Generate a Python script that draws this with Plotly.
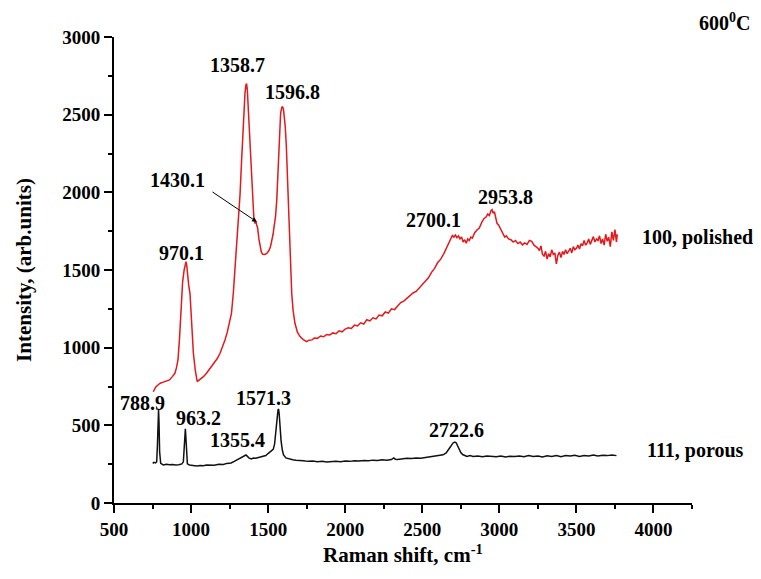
import plotly.graph_objects as go

# Red spectrum: 100, polished  (Raman shift, intensity)
red_points = [
    (755, 716), (770, 745), (785, 760), (800, 771), (820, 778), (840, 785), (860, 792), (880, 815),
    (895, 835), (905, 870), (915, 921), (925, 1060), (935, 1280), (945, 1420), (955, 1500), (962, 1540),
    (967, 1553), (972, 1530), (978, 1460), (985, 1400), (993, 1350), (1003, 1180), (1015, 964), (1028, 850),
    (1040, 781), (1050, 790), (1065, 800), (1080, 813), (1100, 835), (1123, 867), (1150, 900), (1170, 930),
    (1188, 964), (1205, 1005), (1220, 1050), (1235, 1100), (1250, 1160), (1262, 1220), (1274, 1350), (1285, 1500),
    (1296, 1640), (1307, 1779), (1318, 1990), (1328, 2208), (1336, 2380), (1343, 2530), (1350, 2640), (1356, 2691),
    (1360, 2700), (1365, 2660), (1371, 2530), (1378, 2380), (1386, 2230), (1393, 2101), (1400, 1960), (1408, 1822),
    (1415, 1800), (1421, 1810), (1426, 1790), (1432, 1770), (1440, 1700), (1447, 1650), (1456, 1615), (1465, 1601),
    (1478, 1600), (1491, 1607), (1505, 1625), (1515, 1650), (1523, 1682), (1532, 1730), (1540, 1790), (1548, 1843),
    (1556, 1950), (1566, 2208), (1574, 2380), (1581, 2509), (1588, 2545), (1594, 2552), (1600, 2530), (1605, 2490),
    (1611, 2423), (1618, 2300), (1625, 2100), (1631, 1886), (1638, 1700), (1645, 1520), (1653, 1350), (1662, 1240),
    (1674, 1157), (1690, 1100), (1707, 1071), (1728, 1052), (1750, 1039),
    (1765, 1048), (1785, 1050), (1800, 1062), (1820, 1060), (1840, 1075), (1860, 1070), (1880, 1085), (1900, 1082),
    (1920, 1095), (1940, 1090), (1960, 1108), (1980, 1102), (2000, 1120), (2020, 1128), (2040, 1124), (2060, 1145),
    (2080, 1140), (2100, 1160), (2120, 1152), (2140, 1180), (2160, 1172), (2180, 1192), (2200, 1185), (2220, 1210),
    (2240, 1205), (2260, 1230), (2280, 1222), (2300, 1250), (2320, 1245), (2340, 1270), (2360, 1290), (2380, 1300),
    (2400, 1318), (2420, 1330), (2440, 1352), (2460, 1362), (2480, 1385), (2500, 1405), (2520, 1428), (2540, 1450),
    (2560, 1485), (2580, 1510), (2600, 1548), (2620, 1570), (2640, 1605), (2660, 1650), (2680, 1685), (2695, 1722),
    (2705, 1712), (2715, 1725), (2725, 1708), (2735, 1720), (2745, 1700), (2755, 1712), (2765, 1680), (2775, 1695),
    (2785, 1672), (2795, 1700), (2805, 1690), (2815, 1712), (2825, 1705), (2840, 1740), (2855, 1758), (2870, 1770),
    (2885, 1805), (2900, 1830), (2915, 1842), (2925, 1860), (2935, 1850), (2945, 1880), (2953, 1888), (2960, 1865),
    (2968, 1875), (2976, 1835), (2985, 1800), (2995, 1790), (3005, 1770), (3015, 1745), (3025, 1735), (3035, 1712),
    (3045, 1720), (3060, 1700), (3075, 1695), (3090, 1680), (3105, 1690), (3120, 1670), (3135, 1680), (3150, 1662),
    (3165, 1675), (3180, 1665), (3195, 1690), (3210, 1685), (3225, 1660), (3240, 1650),
    (3250, 1640), (3260, 1625), (3270, 1655), (3280, 1600), (3290, 1590), (3300, 1620), (3310, 1570), (3320, 1605),
    (3330, 1585), (3340, 1630), (3350, 1600), (3360, 1610), (3370, 1540), (3380, 1595), (3390, 1615), (3400, 1580),
    (3410, 1620), (3420, 1600), (3430, 1630), (3440, 1605), (3450, 1625), (3460, 1640), (3470, 1610), (3480, 1650),
    (3490, 1630), (3500, 1640), (3510, 1660), (3520, 1635), (3530, 1670), (3540, 1655), (3550, 1690), (3560, 1660),
    (3570, 1675), (3580, 1700), (3590, 1665), (3600, 1690), (3610, 1715), (3620, 1680), (3630, 1700), (3640, 1690),
    (3650, 1720), (3660, 1670), (3670, 1700), (3680, 1660), (3690, 1730), (3700, 1685), (3710, 1710), (3720, 1650),
    (3730, 1745), (3740, 1690), (3750, 1760), (3760, 1680), (3765, 1730),
]

# Black spectrum: 111, porous
black_points = [
    (751, 255), (760, 262), (770, 258), (777, 266), (782, 380), (786, 540), (789, 599), (792, 520),
    (796, 330), (803, 255), (812, 248), (820, 245), (840, 250), (860, 246), (880, 248), (900, 244),
    (920, 246), (940, 252), (950, 265), (955, 330), (960, 450), (963, 478), (966, 430), (970, 300),
    (976, 252), (990, 245), (1010, 240), (1036, 238), (1060, 242), (1080, 240), (1100, 244), (1123, 245),
    (1150, 243), (1180, 250), (1210, 248), (1231, 255), (1260, 258), (1280, 268), (1296, 277), (1315, 286),
    (1330, 292), (1345, 300), (1356, 309), (1366, 300), (1375, 290), (1390, 283), (1405, 290), (1420, 288),
    (1435, 292), (1450, 296), (1469, 298), (1485, 306), (1501, 320), (1515, 330), (1525, 336), (1533, 345),
    (1542, 380), (1551, 449), (1558, 540), (1564, 599), (1568, 605), (1572, 570), (1577, 491), (1584, 400),
    (1592, 341), (1600, 310), (1615, 290), (1630, 285), (1642, 281), (1660, 278), (1680, 275), (1700, 272),
    (1728, 272), (1760, 268), (1790, 270), (1820, 266), (1850, 268), (1880, 264), (1910, 266), (1940, 268),
    (1970, 265), (2000, 270), (2030, 268), (2060, 272), (2090, 270), (2120, 274), (2150, 272), (2180, 276),
    (2210, 274), (2240, 278), (2270, 276), (2300, 280), (2315, 290), (2325, 282), (2340, 280), (2370, 284),
    (2400, 288), (2430, 286), (2460, 290), (2490, 288), (2520, 292), (2550, 295), (2580, 298), (2610, 303),
    (2635, 310), (2655, 322), (2670, 340), (2685, 365), (2698, 385), (2710, 392), (2720, 388), (2728, 370),
    (2738, 345), (2750, 325), (2762, 312), (2775, 305), (2790, 300), (2810, 305), (2830, 300), (2860, 303),
    (2890, 298), (2920, 302), (2950, 300), (2980, 298), (3010, 303), (3040, 297), (3070, 301), (3100, 299),
    (3130, 303), (3160, 298), (3190, 305), (3220, 300), (3250, 303), (3280, 296), (3310, 304), (3340, 300),
    (3370, 306), (3400, 298), (3430, 305), (3460, 302), (3490, 308), (3520, 300), (3550, 306), (3580, 303),
    (3610, 309), (3640, 303), (3670, 308), (3700, 305), (3730, 309), (3760, 305),
]

red_x = [p[0] for p in red_points]
red_y = [p[1] for p in red_points]
black_x = [p[0] for p in black_points]
black_y = [p[1] for p in black_points]

# Peak labels: (text, x, y)
peak_labels = [
    ("1358.7", 1304, 2820), ("1596.8", 1661, 2646), ("1430.1", 909, 2079), ("970.1", 935, 1609),
    ("2700.1", 2570, 1822), ("2953.8", 3037, 1970),
    ("788.9", 688, 644), ("963.2", 1051, 547), ("1355.4", 1304, 406), ("1571.3", 1467, 676),
    ("2722.6", 2725, 470),
]
series_labels = [("100, polished", 3912, 1712), ("111, porous", 3945, 341)]

FONT = "Liberation Serif"

fig = go.Figure()
fig.add_trace(go.Scatter(x=red_x, y=red_y, mode="lines",
                         line=dict(color="#e3191c", width=1.5), showlegend=False))
fig.add_trace(go.Scatter(x=black_x, y=black_y, mode="lines",
                         line=dict(color="#111111", width=1.5), showlegend=False))

ann = []
for t, x, y in peak_labels:
    ann.append(dict(x=x, y=y, xref="x", yref="y", text=t, showarrow=False,
                    xanchor="center", yanchor="middle",
                    font=dict(family=FONT, size=20, color="black", weight="bold")))
for t, x, y in series_labels:
    ann.append(dict(x=x, y=y, xref="x", yref="y", text=t, showarrow=False,
                    xanchor="left", yanchor="middle",
                    font=dict(family=FONT, size=20, color="black", weight="bold")))
# arrow pointing at 1430.1 shoulder
ann.append(dict(x=1428, y=1809, ax=1129, ay=2009, xref="x", yref="y", axref="x", ayref="y",
                text="", showarrow=True, arrowhead=2, arrowsize=1, arrowwidth=1, arrowcolor="black"))
ann.append(dict(x=1.009, y=1.032, xref="paper", yref="paper", text="600<sup>0</sup>C",
                showarrow=False, xanchor="left", yanchor="middle",
                font=dict(family=FONT, size=20, color="black", weight="bold")))

# the page body adds an 8px offset, so the figure is 8px smaller and margins compensate
fig.update_layout(
    width=753, height=571,
    margin=dict(l=106, r=69, t=29, b=76),
    paper_bgcolor="white", plot_bgcolor="white",
    annotations=ann,
    font=dict(family=FONT, color="black"),
)
fig.update_xaxes(
    range=[500, 4250], tick0=500, dtick=500, showgrid=False, zeroline=False, automargin=False,
    showline=True, linecolor="black", linewidth=2,
    ticks="outside", ticklen=8, tickwidth=2, tickcolor="black",
    minor=dict(ticks="outside", ticklen=4, tickwidth=1.5, tickcolor="black", dtick=250, tick0=500, showgrid=False),
    tickfont=dict(family=FONT, size=19, color="black", weight="bold"),
    title=dict(text="Raman shift, cm<sup>-1</sup>", standoff=9,
               font=dict(family=FONT, size=21, color="black", weight="bold")),
)
fig.update_yaxes(
    range=[0, 3000], tick0=0, dtick=500, showgrid=False, zeroline=False, automargin=False,
    showline=True, linecolor="black", linewidth=2,
    ticks="outside", ticklen=8, tickwidth=2, tickcolor="black",
    minor=dict(ticks="outside", ticklen=4, tickwidth=1.5, tickcolor="black", dtick=250, tick0=0, showgrid=False),
    tickfont=dict(family=FONT, size=19, color="black", weight="bold"),
    title=dict(text="Intensity, (arb.units)", standoff=25,
               font=dict(family=FONT, size=21, color="black", weight="bold")),
)

fig.write_html("out.html")
